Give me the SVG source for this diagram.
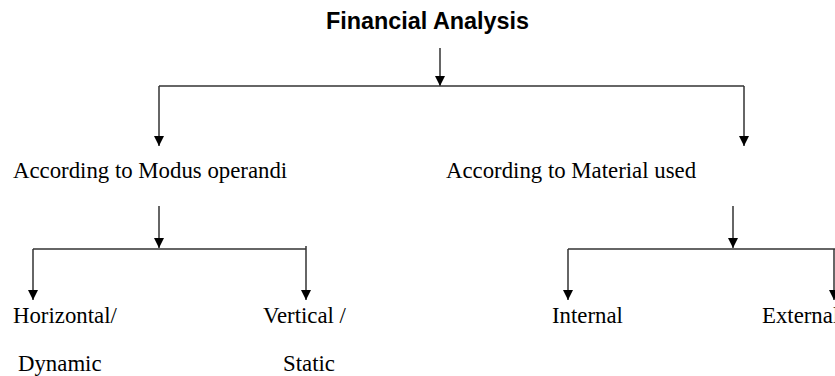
<svg xmlns="http://www.w3.org/2000/svg" width="835" height="376" viewBox="0 0 835 376">
<style>
.t{font-family:"Liberation Serif","Times New Roman",serif;font-size:22.8px;fill:#000}
.h{font-family:"Liberation Sans",Arial,sans-serif;font-size:23.4px;font-weight:bold;fill:#000}
.c{stroke:#333;stroke-width:1.5;fill:none}
.a{marker-end:url(#ah)}
</style>
<defs>
<marker id="ah" markerUnits="userSpaceOnUse" markerWidth="10" markerHeight="10" refX="10" refY="5" orient="auto" viewBox="0 0 10 10">
<path d="M0,0 L10,5 L0,10 Z" fill="#000"/>
</marker>
</defs>
<rect width="835" height="376" fill="#fff"/>
<g id="connectors">
<line class="c a" x1="440" y1="48" x2="440" y2="86"/>
<line class="c" x1="159" y1="86" x2="744" y2="86"/>
<line class="c a" x1="159" y1="86" x2="159" y2="146"/>
<line class="c a" x1="744" y1="86" x2="744" y2="146"/>
<line class="c a" x1="159" y1="206" x2="159" y2="248"/>
<line class="c" x1="33" y1="249" x2="306" y2="249"/>
<line class="c a" x1="33" y1="249" x2="33" y2="300"/>
<line class="c a" x1="306" y1="246" x2="306" y2="300"/>
<line class="c a" x1="733" y1="206" x2="733" y2="248"/>
<line class="c" x1="568" y1="249" x2="835" y2="249"/>
<line class="c a" x1="568" y1="249" x2="568" y2="300"/>
<line class="c a" x1="834" y1="249" x2="834" y2="300"/>
</g>
<g id="root"><text class="h" x="427.5" y="29" text-anchor="middle">Financial Analysis</text></g>
<g id="modus"><text class="t" x="13" y="178">According to Modus operandi</text></g>
<g id="material"><text class="t" x="446" y="178">According to Material used</text></g>
<g id="horizontal"><text class="t" x="13" y="323">Horizontal/</text><text class="t" x="18" y="371">Dynamic</text></g>
<g id="vertical"><text class="t" x="263" y="323">Vertical /</text><text class="t" x="283" y="371">Static</text></g>
<g id="internal"><text class="t" x="552" y="323">Internal</text></g>
<g id="external"><text class="t" x="762" y="323">External</text></g>
</svg>
